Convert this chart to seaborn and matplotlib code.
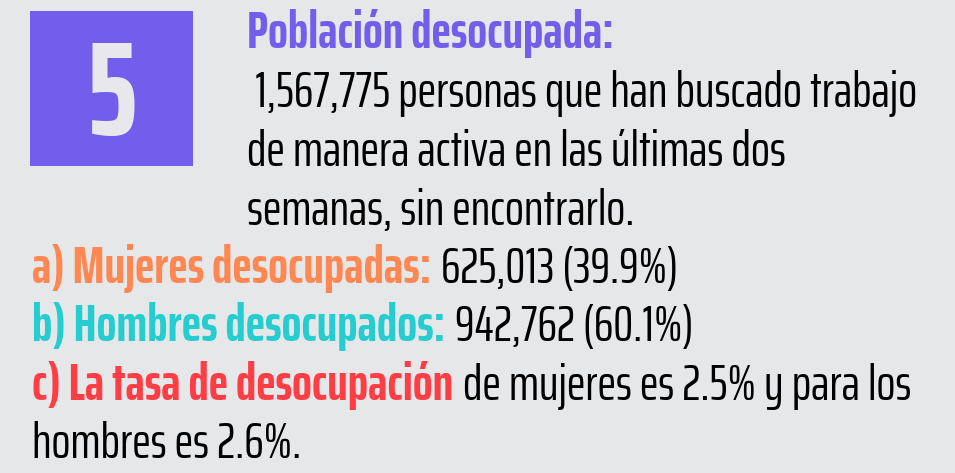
import matplotlib
matplotlib.use("Agg")
import matplotlib.pyplot as plt
import matplotlib.patches as mpatches
from matplotlib.textpath import TextPath
from matplotlib.font_manager import FontProperties
import seaborn as sns

# datos de la ficha
numero = 5
titulo = "Población desocupada:"
total_desocupados = 1567775
categorias = ["a) Mujeres desocupadas:", "b) Hombres desocupados:"]
desocupados = [625013, 942762]
porcentajes = [39.9, 60.1]
tasas = [2.5, 2.6]

fondo = "#E6E7E9"
morado = "#735EEB"
colores = ["#FF8752", "#25CDD0"]
rojo = "#FF3D45"
FUENTE = ["Saira ExtraCondensed", "DejaVu Sans"]

sns.set_theme(style="white", rc={"figure.facecolor": fondo, "axes.facecolor": fondo})
plt.rcParams["font.family"] = FUENTE


def tam(alto_px, peso):
    # tamaño en puntos para que la mayúscula mida alto_px pixeles
    cap = TextPath((0, 0), "H", size=1, prop=FontProperties(family=FUENTE, weight=peso)).get_extents().height
    return alto_px / (cap * 100 / 72)


fig = plt.figure(figsize=(9.55, 4.73), dpi=100)
ax = fig.add_axes([0, 0, 1, 1])
ax.set_xlim(0, 955)
ax.set_ylim(473, 0)
ax.axis("off")

# cuadro con el número
ax.add_patch(mpatches.Rectangle((30, 11), 163, 155, color=morado, lw=0))
ax.text(112, 135, str(numero), color="#E8E8EC", fontsize=tam(92, "bold"), fontweight="bold",
        ha="center", va="baseline")

fig.canvas.draw()
renderer = fig.canvas.get_renderer()
FS = {"normal": tam(34.6, "normal"), "bold": tam(36, "bold")}


def linea(x, y, partes):
    # escribe trozos de colores uno tras otro sobre la misma línea base
    for texto, color, peso in partes:
        t = ax.text(x, y, texto, color=color, fontsize=FS[peso], fontweight=peso,
                    ha="left", va="baseline")
        bb = t.get_window_extent(renderer)
        x = bb.x1 + 10


linea(247, 48, [(titulo, morado, "bold")])
linea(247, 107, [(f" {total_desocupados:,} personas que han buscado trabajo", "black", "normal")])
linea(247, 166, [("de manera activa en las últimas dos", "black", "normal")])
linea(247, 225, [("semanas, sin encontrarlo.", "black", "normal")])
for i in range(2):
    linea(32, 283 + 58 * i, [(categorias[i], colores[i], "bold"),
                             (f"{desocupados[i]:,} ({porcentajes[i]}%)", "black", "normal")])
linea(32, 400, [("c) La tasa de desocupación", rojo, "bold"),
                (f"de mujeres es {tasas[0]}% y para los", "black", "normal")])
linea(32, 458, [(f"hombres es {tasas[1]}%.", "black", "normal")])

fig.savefig("out.png", dpi=100, facecolor=fondo)
